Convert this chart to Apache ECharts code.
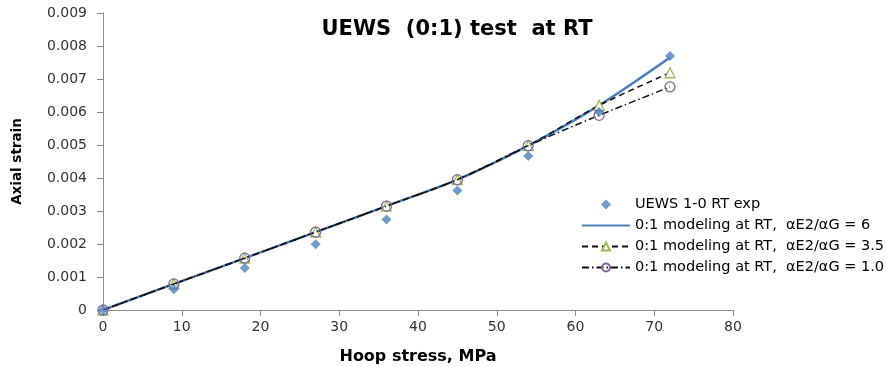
<!DOCTYPE html>
<html><head><meta charset="utf-8">
<script src="https://cdn.jsdelivr.net/npm/echarts@6/dist/echarts.min.js"></script>
<style>html,body{margin:0;padding:0;background:#fff}#c{width:886px;height:367px}</style>
</head><body><div id="c"></div>
<script>
const stress = [0, 9, 18, 27, 36, 45, 54, 63, 72];
const expStrain = [0, 0.00063, 0.00127, 0.00199, 0.00274, 0.00362, 0.00467, 0.00600, 0.00770];
const model6 = [0, 0.00079, 0.00157, 0.00236, 0.00315, 0.00395, 0.00498, 0.00620, 0.00765];
const model35 = [0, 0.00079, 0.00157, 0.00236, 0.00315, 0.00395, 0.00498, 0.00620, 0.00719];
const model10 = [0, 0.00079, 0.00157, 0.00236, 0.00315, 0.00395, 0.00498, 0.00590, 0.00676];
const names = ['UEWS 1-0 RT exp', '0:1 modeling at RT,  \u03b1E2/\u03b1G = 6', '0:1 modeling at RT,  \u03b1E2/\u03b1G = 3.5', '0:1 modeling at RT,  \u03b1E2/\u03b1G = 1.0'];
const pairs = a => stress.map((x, i) => [x, a[i]]);
const font = 'DejaVu Sans, sans-serif';
const diamond = 'path://M5 0 L10 5 L5 10 L0 5 Z';
const chart = echarts.init(document.getElementById('c'));
chart.setOption({
  animation: false,
  title: { text: 'UEWS  (0:1) test  at RT', left: 452, top: 14, textAlign: 'center',
    textStyle: { fontFamily: font, fontWeight: 'bold', fontSize: 21, color: '#000' } },
  grid: { left: 103, right: 153, top: 13, bottom: 57, containLabel: false, outerBoundsMode: 'none' },
  xAxis: { type: 'value', min: 0, max: 80, interval: 10,
    name: 'Hoop stress, MPa', nameLocation: 'middle', nameGap: 39,
    nameTextStyle: { fontFamily: font, fontWeight: 'bold', fontSize: 16, color: '#000' },
    axisLine: { lineStyle: { color: '#8c8c8c' } }, axisTick: { show: true, length: 6, lineStyle: { color: '#8c8c8c' } },
    axisLabel: { fontFamily: font, fontSize: 14, color: '#333', margin: 10 }, splitLine: { show: false } },
  yAxis: { type: 'value', min: 0, max: 0.009, interval: 0.001,
    name: 'Axial strain', nameLocation: 'middle', nameGap: 79, nameRotate: 90,
    nameTextStyle: { fontFamily: font, fontWeight: 'bold', fontSize: 13.5, color: '#000' },
    axisLine: { show: true, lineStyle: { color: '#8c8c8c' } }, axisTick: { show: true, length: 6, lineStyle: { color: '#8c8c8c' } },
    axisLabel: { fontFamily: font, fontSize: 14, color: '#333', margin: 16,
      formatter: v => v === 0 ? '0' : v.toFixed(3) }, splitLine: { show: false } },
  legend: { orient: 'vertical', left: 576, top: 192, itemGap: 6, itemWidth: 48, itemHeight: 10,
    textStyle: { fontFamily: font, fontSize: 14.5, color: '#000' },
    data: [names[0], { name: names[1], itemStyle: { opacity: 0 } }, names[2], names[3]] },
  series: [
    { name: names[0], type: 'scatter', data: pairs(expStrain), symbol: diamond, symbolKeepAspect: true, symbolSize: 10,
      itemStyle: { color: '#4f81bd' }, z: 5 },
    { name: names[1], type: 'line', data: pairs(model6), smooth: 0.3, symbol: 'none',
      lineStyle: { color: '#4a7ebb', width: 2.5 }, itemStyle: { color: '#4a7ebb', opacity: 0 }, z: 2 },
    { name: names[2], type: 'line', data: pairs(model35), smooth: 0.3, symbol: 'triangle', symbolSize: 10,
      lineStyle: { color: '#111', width: 1.5, type: [6, 4] },
      itemStyle: { color: '#fff', borderColor: '#9bbb59', borderWidth: 1.3 }, z: 3 },
    { name: names[3], type: 'line', data: pairs(model10), smooth: 0.3, symbol: 'circle', symbolSize: 10,
      lineStyle: { color: '#111', width: 1.5, type: [7, 3, 1.5, 3] },
      itemStyle: { color: 'rgba(255,255,255,0)', borderColor: '#8064a2', borderWidth: 1.3 }, z: 4 }
  ]
});
</script></body></html>
